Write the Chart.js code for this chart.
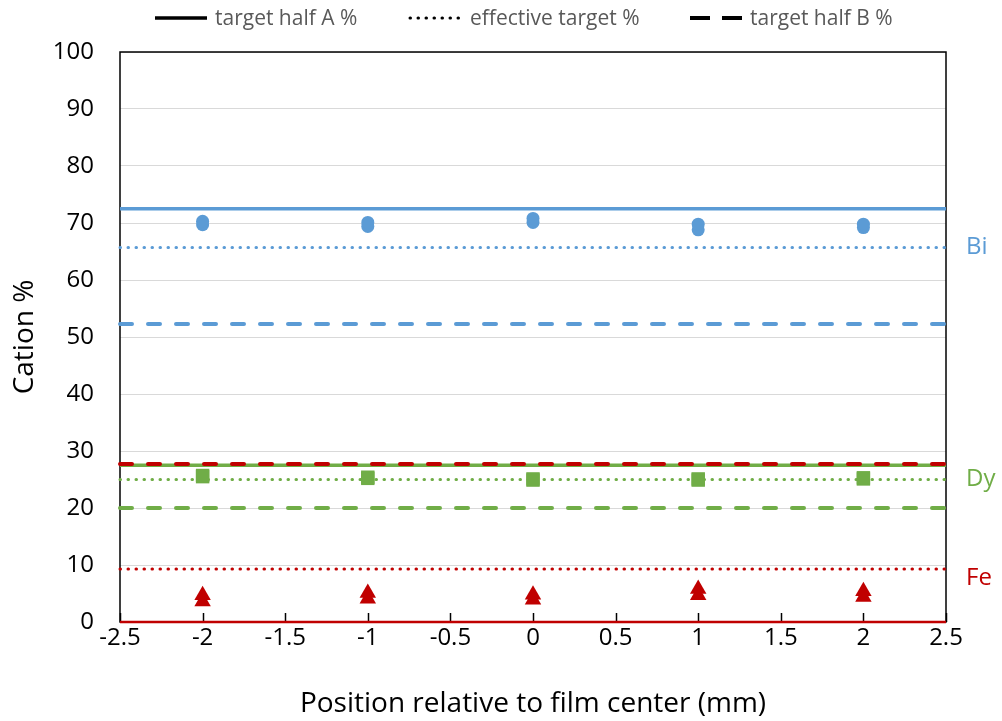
<!DOCTYPE html>
<html>
<head>
<meta charset="utf-8">
<script src="https://cdn.jsdelivr.net/npm/chart.js@4/dist/chart.umd.min.js"></script>
<style>
  html, body { margin: 0; padding: 0; background: #fff; }
  #wrap { width: 1002px; height: 721px; position: relative; }
</style>
</head>
<body>
<div id="wrap"><canvas id="c" width="1002" height="721"></canvas></div>
<script>
// ---- data ----
const positions = [-2, -1, 0, 1, 2];
const biMeasuredA = [70.3, 70.1, 70.8, 69.8, 69.8];
const biMeasuredB = [69.7, 69.4, 70.1, 68.8, 69.2];
const dyMeasuredA = [25.7, 25.4, 25.1, 25.1, 25.3];
const dyMeasuredB = [25.5, 25.2, 24.9, 24.9, 25.1];
const feMeasuredA = [4.7, 5.1, 4.8, 5.8, 5.4];
const feMeasuredB = [3.6, 4.1, 3.9, 4.7, 4.4];
const elements = ['Bi', 'Dy', 'Fe'];
const targetHalfA = [72.5, 27.5, 0];
const effectiveTarget = [65.7, 25.0, 9.3];
const targetHalfB = [52.3, 20.0, 27.7];
const labelValues = [65.7, 25.0, 7.7];
const xRange = [-2.5, 2.5];
const legendNames = ['target half A %', 'effective target %', 'target half B %'];

const colors = { Bi: '#5B9BD5', Dy: '#70AD47', Fe: '#C00000' };
const FONT = "'Open Sans', sans-serif";

function pts(ys) { return positions.map((x, i) => ({ x, y: ys[i] })); }
function hline(v) { return xRange.map(x => ({ x, y: v })); }

const datasets = [];
const measured = { Bi: [biMeasuredA, biMeasuredB], Dy: [dyMeasuredA, dyMeasuredB], Fe: [feMeasuredA, feMeasuredB] };
const markerStyle = { Bi: ['circle', 6.5], Dy: ['rect', 9.5], Fe: ['triangle', 9.5] };
elements.forEach(el => {
  measured[el].forEach(arr => {
    datasets.push({
      type: 'scatter', data: pts(arr), order: 0,
      pointStyle: markerStyle[el][0], pointRadius: markerStyle[el][1],
      backgroundColor: colors[el], borderColor: colors[el], borderWidth: 0,
      showLine: false
    });
  });
});
elements.forEach((el, i) => {
  datasets.push({ type: 'line', data: hline(targetHalfB[i]), order: 2, borderColor: colors[el], borderWidth: 4,
    borderDash: [12, 16], borderCapStyle: 'round', pointRadius: 0, fill: false, clip: false });
  datasets.push({ type: 'line', data: hline(effectiveTarget[i]), order: 3, borderColor: colors[el], borderWidth: 3,
    borderDash: [0.5, 7.5], borderCapStyle: 'round', pointRadius: 0, fill: false, clip: false });
});
elements.forEach((el, i) => {
  datasets.push({ type: 'line', data: hline(targetHalfA[i]), order: (el === 'Dy' ? 4 : 1), borderColor: colors[el],
    borderWidth: (el === 'Fe' ? 2.5 : 3.5), pointRadius: 0, fill: false, clip: false });
});

const framePlugin = {
  id: 'frame',
  beforeDatasetsDraw(chart) {
    const { ctx, chartArea: a, scales } = chart;
    ctx.save();
    ctx.strokeStyle = '#000';
    ctx.lineWidth = 1.5;
    ctx.strokeRect(a.left, a.top, a.right - a.left, a.bottom - a.top);
    for (let v = xRange[0]; v <= xRange[1] + 1e-9; v += 0.5) {
      const x = Math.round(scales.x.getPixelForValue(v)) + 0.5;
      ctx.beginPath();
      ctx.moveTo(x, a.bottom);
      ctx.lineTo(x, a.bottom - 9);
      ctx.stroke();
    }
    ctx.restore();
  },
  afterDraw(chart) {
    const { ctx, chartArea: a, scales } = chart;
    ctx.save();
    ctx.font = '24px ' + FONT;
    ctx.textAlign = 'left';
    ctx.textBaseline = 'middle';
    elements.forEach((el, i) => {
      ctx.fillStyle = colors[el];
      ctx.fillText(el, a.right + 20, scales.y.getPixelForValue(labelValues[i]));
    });
    const legendX = [155, 410, 690];
    const dashes = [[], [0.5, 7.5], [20, 12]];
    const widths = [3.5, 3, 4];
    const caps = ['butt', 'round', 'butt'];
    const ly = 18;
    ctx.font = '21px ' + FONT;
    legendNames.forEach((name, i) => {
      ctx.strokeStyle = '#000';
      ctx.lineWidth = widths[i];
      ctx.lineCap = caps[i];
      ctx.setLineDash(dashes[i]);
      ctx.beginPath();
      ctx.moveTo(legendX[i], ly);
      ctx.lineTo(legendX[i] + 52, ly);
      ctx.stroke();
      ctx.setLineDash([]);
      ctx.fillStyle = '#595959';
      ctx.fillText(name, legendX[i] + 60, ly + 1);
    });
    ctx.restore();
  }
};

new Chart(document.getElementById('c'), {
  type: 'scatter',
  data: { datasets },
  options: {
    responsive: false,
    animation: false,
    layout: { padding: { top: 52, right: 56, left: 0, bottom: 0 } },
    plugins: { legend: { display: false }, tooltip: { enabled: false } },
    scales: {
      x: {
        type: 'linear', min: xRange[0], max: xRange[1],
        ticks: { stepSize: 0.5, color: '#000', font: { family: FONT, size: 24 }, padding: 2, maxRotation: 0,
          callback: v => String(Math.round(v * 10) / 10) },
        grid: { display: false, drawTicks: false },
        border: { display: false },
        title: { display: true, text: 'Position relative to film center (mm)', color: '#000',
          font: { family: FONT, size: 28 }, padding: { top: 14, bottom: 0 } },
        afterFit(s) { s.height = 99; }
      },
      y: {
        min: 0, max: 100,
        ticks: { stepSize: 10, color: '#000', font: { family: FONT, size: 24 }, padding: 26 },
        grid: { color: '#d9d9d9', lineWidth: 1, drawTicks: false },
        border: { display: false },
        title: { display: true, text: 'Cation %', color: '#000', font: { family: FONT, size: 28 }, padding: { top: 8, bottom: 0 } },
        afterFit(s) { s.width = 120; }
      }
    }
  },
  plugins: [framePlugin]
});
</script>
</body>
</html>
